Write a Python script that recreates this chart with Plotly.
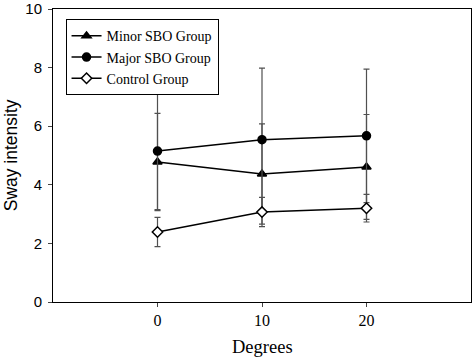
import plotly.graph_objects as go

degrees = [0, 10, 20]
minor_vals = [4.78, 4.37, 4.61]
minor_err = [1.66, 1.71, 1.79]
major_vals = [5.15, 5.54, 5.67]
major_err = [2.0, 2.44, 2.28]
control_vals = [2.39, 3.07, 3.20]
control_err = [0.5, 0.5, 0.47]

x_ticks = [0, 10, 20]
y_ticks = [0, 2, 4, 6, 8, 10]

err_color = "#505050"
serif = "Times New Roman, Liberation Serif, serif"
sans = "Arial, Liberation Sans, sans-serif"

fig = go.Figure()

def add(name, vals, errs, symbol, fill):
    fig.add_trace(go.Scatter(
        x=degrees, y=vals, name=name, mode="lines+markers",
        line=dict(color="black", width=1.5),
        marker=dict(symbol=symbol, size=8,
                    color=fill, line=dict(color="black", width=1.5)),
        error_y=dict(type="data", array=errs, visible=True,
                     color=err_color, thickness=1.2, width=3),
    ))

add("Minor SBO Group", minor_vals, minor_err, "triangle-up", "black")
add("Major SBO Group", major_vals, major_err, "circle", "black")
add("Control Group", control_vals, control_err, "diamond", "white")

fig.update_layout(
    width=472, height=358,
    margin=dict(l=53, r=1, t=9, b=56, autoexpand=False),
    plot_bgcolor="white", paper_bgcolor="white",
    showlegend=True,
    legend=dict(x=0.03, y=0.965, xanchor="left", yanchor="top",
                bordercolor="black", borderwidth=1, bgcolor="white",
                font=dict(family=serif, size=14, color="black"),
                tracegroupgap=0, itemwidth=30),
    xaxis=dict(range=[-10, 30], tickvals=x_ticks, ticks="outside", ticklen=4,
               showgrid=False, zeroline=False, showline=True, linecolor="black",
               linewidth=1, mirror=True, automargin=False,
               ticklabeloverflow="allow",
               tickfont=dict(family=serif, size=16, color="black")),
    yaxis=dict(range=[0, 10], tickvals=y_ticks, ticks="outside", ticklen=4,
               showgrid=False, zeroline=False, showline=True, linecolor="black",
               linewidth=1, mirror=True, automargin=False, ticklabelstandoff=3,
               ticklabeloverflow="allow",
               tickfont=dict(family=sans, size=15, color="black")),
    annotations=[
        dict(text="Degrees", xref="paper", yref="paper", x=0.5, y=-0.152,
             xanchor="center", yanchor="middle", showarrow=False,
             font=dict(family=serif, size=18.5, color="black")),
        dict(text="Sway intensity", xref="paper", yref="paper", x=-0.101, y=0.5,
             xanchor="center", yanchor="middle", showarrow=False, textangle=-90,
             font=dict(family=sans, size=17.5, color="black")),
    ],
)

fig.write_html("out.html", config={"displayModeBar": False},
               post_script="document.body.style.margin='0';document.body.style.overflow='hidden';")
